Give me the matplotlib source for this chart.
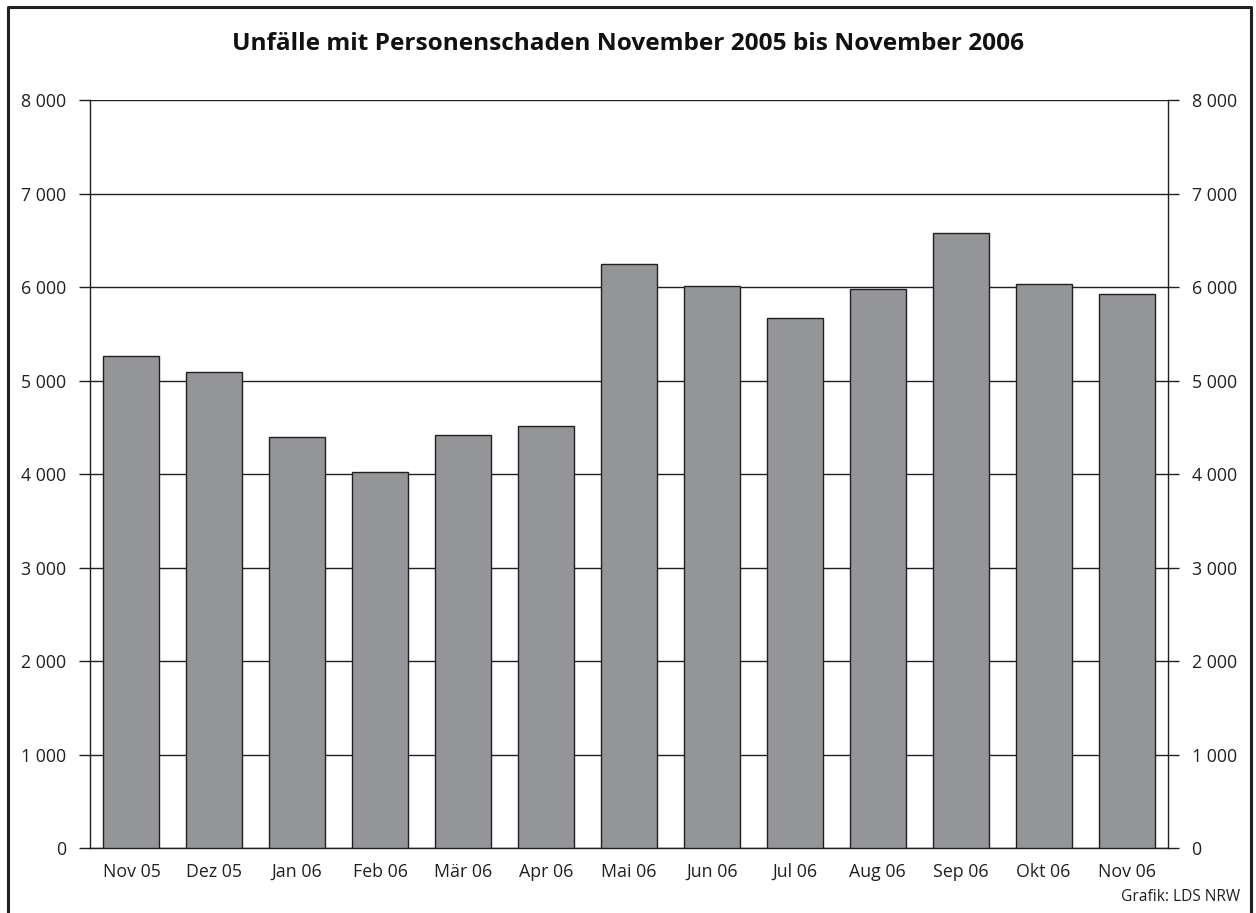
import matplotlib
matplotlib.use("Agg")
import matplotlib.pyplot as plt
from matplotlib.ticker import FuncFormatter
from matplotlib.lines import Line2D

categories = ["Nov 05", "Dez 05", "Jan 06", "Feb 06", "Mär 06", "Apr 06", "Mai 06",
              "Jun 06", "Jul 06", "Aug 06", "Sep 06", "Okt 06", "Nov 06"]
values = [5267, 5093, 4395, 4026, 4420, 4509, 6242, 6015, 5669, 5983, 6581, 6036, 5930]
yticks = [0, 1000, 2000, 3000, 4000, 5000, 6000, 7000, 8000]
title = "Unfälle mit Personenschaden November 2005 bis November 2006"
source = "Grafik: LDS NRW"

plt.rcParams['font.family'] = ['Open Sans', 'DejaVu Sans']

W, H = 1256, 913
fig = plt.figure(figsize=(W / 100, H / 100), dpi=100)
ax = fig.add_axes([90 / W, 1 - 848 / H, (1168 - 90) / W, (848 - 100) / H])

x = list(range(len(categories)))
ax.bar(x, values, width=0.675, color="#939598", edgecolor="#231f20", linewidth=1.0, zorder=3)

ax.set_xlim(-0.5, len(categories) - 0.5)
ax.set_ylim(0, 8000)
ax.set_yticks(yticks)
fmt = FuncFormatter(lambda v, p: f"{int(v):,}".replace(",", " "))
ax.yaxis.set_major_formatter(fmt)
ax.set_xticks(x)
ax.set_xticklabels(categories)
ax.tick_params(axis="x", length=0, pad=11, labelsize=12.8, colors="#231f20")
ax.tick_params(axis="y", length=8, width=1, direction="out", labelsize=12.8, pad=9,
               colors="#231f20", left=True, right=True, labelleft=True, labelright=True)
ax.grid(axis="y", color="#231f20", linewidth=1.0, zorder=0)
ax.set_axisbelow(True)
ax.spines["top"].set_visible(False)
for s in ["left", "right", "bottom"]:
    ax.spines[s].set_color("#231f20")
    ax.spines[s].set_linewidth(1.0)

fig.text(628 / W, 1 - 44 / H, title, ha="center", va="center", fontsize=17.6,
         fontweight="bold", color="#111111")
fig.text(1240 / W, 1 - 897 / H, source, ha="right", va="center", fontsize=11.2, color="#231f20")

# figure frame
fx = [8 / W, 8 / W, 1251 / W, 1251 / W]
fy = [0, 1 - 7 / H, 1 - 7 / H, 0]
fig.add_artist(Line2D(fx, fy, transform=fig.transFigure, color="#231f20", linewidth=2.2))

fig.savefig("out.png", dpi=100)
